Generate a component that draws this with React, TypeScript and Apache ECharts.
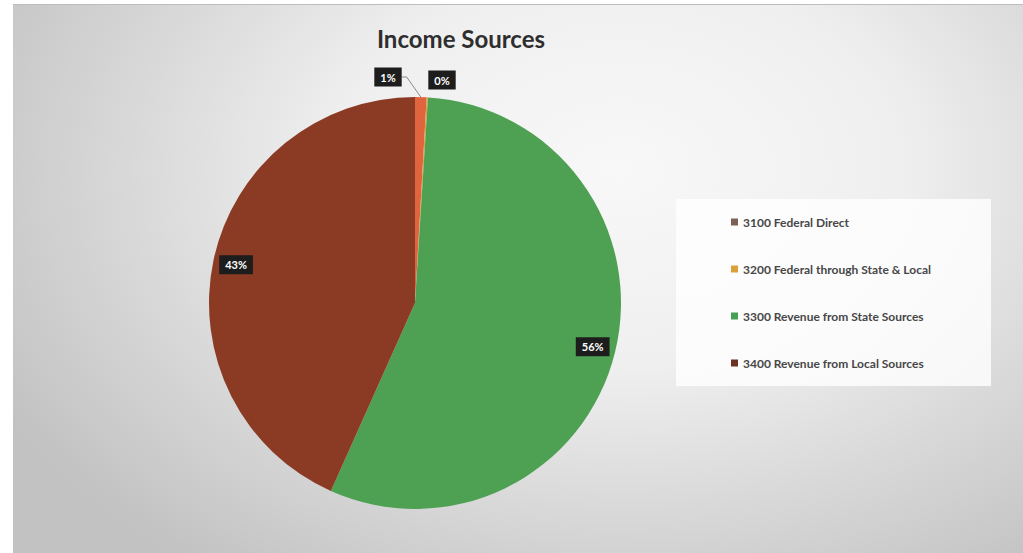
import React, { useEffect, useRef } from 'react';
import * as echarts from 'echarts';

const titleText = 'Income Sources';
const categories = [
  '3100 Federal Direct',
  '3200 Federal through State & Local',
  '3300 Revenue from State Sources',
  '3400 Revenue from Local Sources',
];
const values = [0.9, 0.1, 55.7, 43.3];
const sliceColors = ['#e0653f', '#dea038', '#4ea153', '#8b3b24'];
const legendColors = ['#7b6156', '#dca03a', '#45a055', '#6b3322'];

const FONT = 'Lato, "Open Sans", sans-serif';

const boxLabel = {
  formatter: '{d}%',
  color: '#ffffff',
  fontFamily: FONT,
  fontSize: 11,
  fontWeight: 'bold' as const,
  backgroundColor: '#1d1d1d',
  padding: [4, 6, 4, 6],
};

export default function App() {
  const ref = useRef<HTMLDivElement>(null);

  useEffect(() => {
    if (!ref.current) return;
    const chart = echarts.init(ref.current, undefined, { renderer: 'svg' });
    const center = [402, 298];
    const R = 206;
    chart.setOption({
      animation: false,
      title: {
        text: titleText,
        left: 443,
        top: 16,
        textAlign: 'center',
        textStyle: { fontFamily: FONT, fontSize: 24, fontWeight: 'bold', color: '#2e2e2e' },
      },
      legend: {
        orient: 'vertical',
        left: 663,
        top: 194,
        data: categories.map((n, i) => ({ name: n, itemStyle: { color: legendColors[i] } })),
        icon: 'rect',
        itemWidth: 7,
        itemHeight: 7,
        itemGap: 33,
        padding: [16, 60, 16, 55],
        backgroundColor: 'rgba(255,255,255,0.8)',
        selectedMode: false,
        textStyle: { fontFamily: FONT, fontSize: 12, fontWeight: 'bold', color: '#474747', lineHeight: 14 },
      },
      series: [
        {
          type: 'pie',
          radius: [0, R],
          center,
          startAngle: 90,
          clockwise: true,
          silent: true,
          percentPrecision: 0,
          avoidLabelOverlap: false,
          data: categories.map((n, i) => ({
            name: n,
            value: values[i],
            itemStyle: { color: sliceColors[i] },
            label: { show: i < 2 },
            labelLine: { show: i === 0 },
          })),
          label: { position: 'outside', ...boxLabel },
          labelLine: { length: 10, length2: 5, lineStyle: { color: '#8a8a8a', width: 1 } },
          labelLayout: (p: any) => {
            if (p.dataIndex === 0) return { x: 375, y: 72, align: 'center', verticalAlign: 'middle' };
            if (p.dataIndex === 1) return { x: 429, y: 75, align: 'center', verticalAlign: 'middle' };
            return {};
          },
          emphasis: { disabled: true },
        },
        {
          type: 'pie',
          radius: [154, R],
          center,
          startAngle: 90,
          clockwise: true,
          silent: true,
          percentPrecision: 0,
          avoidLabelOverlap: false,
          itemStyle: { color: 'rgba(0,0,0,0)' },
          data: categories.map((n, i) => ({
            name: n,
            value: values[i],
            label: { show: i >= 2 },
          })),
          label: { position: 'inside', ...boxLabel },
          labelLine: { show: false },
          emphasis: { disabled: true },
        },
      ],
    });
    return () => chart.dispose();
  }, []);

  return (
    <div style={{ position: 'fixed', left: 0, top: 0, width: 1023, height: 553, background: '#ffffff' }}>
      <div
        style={{
          position: 'absolute',
          left: 13,
          top: 4,
          width: 1010,
          height: 549,
          borderTop: '1px solid #bdbdbd',
          boxSizing: 'border-box',
          background:
            'radial-gradient(ellipse 70% 90% at 60% 30%, #f8f8f8 0%, #efefef 40%, #d8d8d8 70%, #c2c2c2 100%)',
        }}
      >
        <div ref={ref} style={{ width: 1010, height: 548 }} />
      </div>
    </div>
  );
}
